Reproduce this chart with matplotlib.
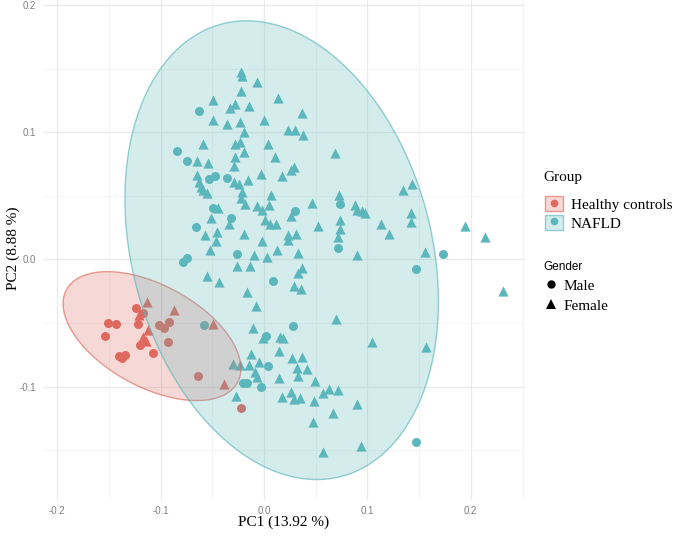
import numpy as np
import matplotlib
matplotlib.use("Agg")
import matplotlib.pyplot as plt
from matplotlib.patches import Patch, Polygon
from matplotlib.lines import Line2D
from matplotlib.legend_handler import HandlerTuple
from matplotlib.ticker import MultipleLocator
from matplotlib.font_manager import FontProperties
from matplotlib.colors import to_rgba

# ---------------- data ----------------
group_names = ["Healthy controls", "NAFLD"]
gender_names = ["Male", "Female"]
group_title = "Group"
gender_title = "Gender"
x_label = "PC1 (13.92 %)"
y_label = "PC2 (8.88 %)"
x_ticks = [-0.2, -0.1, 0.0, 0.1, 0.2]
y_ticks = [-0.1, 0.0, 0.1, 0.2]

# Healthy controls
hc_male_pc1 = [-0.1238, -0.1167, -0.1506, -0.1431, -0.1221, -0.1015, -0.0967, -0.0919,
               -0.1535, -0.0926, -0.1199, -0.1071, -0.1399, -0.1344, -0.1373, -0.0638, -0.0222]
hc_male_pc2 = [-0.0381, -0.0425, -0.0503, -0.0509, -0.0511, -0.0517, -0.0542, -0.0491,
               -0.0603, -0.0648, -0.0674, -0.0739, -0.0758, -0.0752, -0.0772, -0.0915, -0.1167]
hc_female_pc1 = [-0.1134, -0.1212, -0.0868, -0.1119, -0.0496, -0.1167, -0.1141, -0.0390]
hc_female_pc2 = [-0.0333, -0.0438, -0.0399, -0.0556, -0.0509, -0.0613, -0.0640, -0.0980]

# NAFLD
nafld_male_pc1 = [-0.0780, -0.0742, 0.0090, -0.0580, 0.0016, 0.0039, -0.0200, -0.0161, -0.0026,
                  -0.0264, 0.1734, 0.1467, 0.0283, 0.1467, 0.0735, 0.0718, 0.0300, -0.0626,
                  -0.0838, -0.0747, -0.0529, -0.0474, -0.0355, -0.0319, -0.0655, -0.0490]
nafld_male_pc2 = [-0.0019, 0.0008, -0.0168, -0.0516, -0.0603, -0.0836, -0.0975, -0.0975, -0.1006,
                  0.0039, 0.0039, -0.0076, -0.0524, -0.1438, 0.0435, 0.0094, 0.0382, 0.1166,
                  0.0854, 0.0775, 0.0629, 0.0655, 0.0637, 0.0330, 0.0256, 0.0401]
nafld_female_pc1 = [
    -0.0222, -0.0213, -0.0068, -0.0227, -0.0496, 0.0138, -0.0329, -0.0280, -0.0145, 0.0367,
    -0.0496, -0.0361, -0.0232, 0.0002, 0.0235, 0.0300, 0.0374, -0.0193, -0.0587, -0.0280,
    -0.0232, 0.0039, -0.0193, 0.0687, 0.0111, -0.0645, -0.0546, -0.0280, -0.0287, 0.0258,
    0.0292, -0.0029, 0.0176, -0.0651, -0.0290, -0.0239, -0.0155, -0.0629, -0.0609, -0.0587,
    -0.0548, -0.0216, -0.0225, 0.0065, 0.0728, 0.1341, 0.1434, -0.0184, -0.0068, -0.0015,
    0.0048, 0.0467, 0.0880, 0.0902, 0.0951, 0.0977, 0.0263, 0.0735, 0.1419, 0.1419,
    -0.0508, -0.0442, -0.0338, 0.0005, 0.0058, 0.0116, 0.0522, 0.1134, 0.1211, 0.1944,
    0.2137, -0.0571, -0.0452, -0.0191, 0.0237, 0.0308, 0.0735, 0.0718, -0.0467, -0.0022,
    0.0232, -0.0522, 0.0129, 0.0332, 0.0896, 0.1557, -0.0097, 0.0026, 0.0365, 0.0332,
    -0.0264, -0.0135, -0.0551, -0.0435, 0.0290, 0.0361, -0.0169, -0.0077, 0.0693, -0.0103,
    -0.0010, 0.0155, 0.0181, 0.1047, 0.1562, 0.0142, -0.0129, 0.0274, 0.0370, -0.0297,
    -0.0232, -0.0145, -0.0045, 0.0322, 0.0419, -0.0087, -0.0065, 0.0326, 0.0148, 0.0496,
    0.0258, 0.0571, 0.0632, 0.0718, -0.0273, 0.0176, 0.0287, 0.0351, 0.0484, 0.0902,
    0.0664, 0.0471, 0.0935, 0.0573, 0.2314]
nafld_female_pc2 = [
    0.1472, 0.1441, 0.1396, 0.1327, 0.1258, 0.1273, 0.1189, 0.1221, 0.1209, 0.1152,
    0.1100, 0.1069, 0.1082, 0.1100, 0.1016, 0.1016, 0.0977, 0.1003, 0.0906, 0.0912,
    0.0924, 0.0906, 0.0846, 0.0841, 0.0802, 0.0778, 0.0757, 0.0806, 0.0733, 0.0704,
    0.0728, 0.0676, 0.0659, 0.0667, 0.0610, 0.0597, 0.0623, 0.0610, 0.0568, 0.0545,
    0.0523, 0.0531, 0.0487, 0.0505, 0.0505, 0.0550, 0.0590, 0.0440, 0.0417, 0.0387,
    0.0429, 0.0443, 0.0432, 0.0387, 0.0382, 0.0362, 0.0338, 0.0314, 0.0369, 0.0297,
    0.0330, 0.0401, 0.0277, 0.0307, 0.0280, 0.0280, 0.0266, 0.0277, 0.0199, 0.0262,
    0.0178, 0.0195, 0.0217, 0.0199, 0.0195, 0.0199, 0.0236, 0.0173, 0.0148, 0.0144,
    0.0152, 0.0077, 0.0077, 0.0052, 0.0034, 0.0061, 0.0034, 0.0020, -0.0071, -0.0105,
    -0.0049, -0.0049, -0.0129, -0.0175, -0.0210, -0.0236, -0.0255, -0.0367, -0.0472, -0.0542,
    -0.0621, -0.0613, -0.0621, -0.0652, -0.0689, -0.0718, -0.0747, -0.0773, -0.0770, -0.0825,
    -0.0831, -0.0831, -0.0810, -0.0852, -0.0865, -0.0884, -0.0925, -0.0915, -0.0935, -0.0959,
    -0.1041, -0.1047, -0.1022, -0.1028, -0.1075, -0.1085, -0.1096, -0.1086, -0.1110, -0.1138,
    -0.1208, -0.1279, -0.1470, -0.1515, -0.0249]

# 95% confidence ellipses (center and shape matrix in data units)
hc_ellipse_center = [-0.1083, -0.0603]
hc_ellipse_shape = [[0.007392, -0.002192], [-0.002192, 0.002571]]
nafld_ellipse_center = [0.0171, 0.0073]
nafld_ellipse_shape = [[0.02297, -0.006108], [-0.006108, 0.03255]]

# ---------------- styling ----------------
c_hc = "#DF695F"
c_nafld = "#5BB7BB"
serif = "Liberation Serif"
sans = "Liberation Sans"

W, H = 676, 537
fig = plt.figure(figsize=(W / 100, H / 100), dpi=100)
ax = fig.add_axes([43 / W, 1 - 499.6 / H, 482 / W, 503.3 / H])
ax.set_xlim(-0.2137, 0.2524)
ax.set_ylim(-0.1889, 0.2070)

ax.xaxis.set_minor_locator(MultipleLocator(0.05))
ax.yaxis.set_minor_locator(MultipleLocator(0.05))
ax.set_xticks(x_ticks)
ax.set_yticks(y_ticks)
ax.set_xticklabels([f"{v:.1f}" for v in x_ticks])
ax.set_yticklabels([f"{v:.1f}" for v in y_ticks])
ax.set_xlim(-0.2137, 0.2524)
ax.set_ylim(-0.1889, 0.2070)
ax.grid(which="major", color="#EAEAEA", lw=0.9)
ax.grid(which="minor", color="#F3F3F3", lw=0.6)
ax.set_axisbelow(True)
for s in ax.spines.values():
    s.set_visible(False)
ax.tick_params(which="both", length=0)
ax.tick_params(axis="x", labelsize=7, labelcolor="#808080", pad=4.5)
ax.tick_params(axis="y", labelsize=7, labelcolor="#808080", pad=5)
for lab in ax.get_xticklabels() + ax.get_yticklabels():
    lab.set_fontfamily(sans)

# points
ms_circle, ms_tri = 42, 54
ax.scatter(hc_male_pc1, hc_male_pc2, marker="o", s=ms_circle, color=c_hc, lw=0, zorder=2)
ax.scatter(hc_female_pc1, hc_female_pc2, marker="^", s=ms_tri, color=c_hc, lw=0, zorder=2)
ax.scatter(nafld_male_pc1, nafld_male_pc2, marker="o", s=ms_circle, color=c_nafld, lw=0, zorder=2)
ax.scatter(nafld_female_pc1, nafld_female_pc2, marker="^", s=ms_tri, color=c_nafld, lw=0, zorder=2)

# ellipses
t = np.linspace(0, 2 * np.pi, 300)
for center, shape, col, z in [(hc_ellipse_center, hc_ellipse_shape, c_hc, 3),
                              (nafld_ellipse_center, nafld_ellipse_shape, c_nafld, 4)]:
    L = np.linalg.cholesky(np.array(shape))
    pts = np.array(center)[:, None] + L @ np.vstack([np.cos(t), np.sin(t)])
    ax.add_patch(Polygon(pts.T, closed=True, facecolor=to_rgba(col, 0.25),
                         edgecolor=to_rgba(col, 0.65), lw=1.0, zorder=z))

# axis labels
ax.set_xlabel(x_label, fontfamily=serif, fontsize=11)
ax.xaxis.set_label_coords(0.5, -0.031)
ax.set_ylabel(y_label, fontfamily=serif, fontsize=11, va="center")
ax.yaxis.set_label_coords(-0.062, 0.5)

# legends
fp = FontProperties(family=serif, size=11)
fig.text(543 / W, 1 - 178 / H, group_title, fontfamily=serif, fontsize=11,
         ha="left", va="center")
grp_handles = [
    (Patch(facecolor=to_rgba(c, 0.25), edgecolor=to_rgba(c, 0.65), lw=1.0),
     Line2D([], [], ls="none", marker="o", ms=5.5, color=c, mew=0))
    for c in (c_hc, c_nafld)
]
fig.legend(grp_handles, group_names, loc="upper left",
           bbox_to_anchor=(545 / W, 1 - 196.5 / H), frameon=False, prop=fp,
           handlelength=1.2, handleheight=1.1, handletextpad=0.5,
           labelspacing=0.2, borderpad=0, borderaxespad=0,
           handler_map={tuple: HandlerTuple(ndivide=1)})

fig.text(543 / W, 1 - 267 / H, gender_title, fontfamily=sans, fontsize=8.5,
         ha="left", va="center")
gen_handles = [Line2D([], [], ls="none", marker="o", ms=6, color="black", mew=0),
               Line2D([], [], ls="none", marker="^", ms=7, color="black", mew=0)]
fig.legend(gen_handles, gender_names, loc="upper left",
           bbox_to_anchor=(544 / W, 1 - 279 / H), frameon=False, prop=fp,
           handlelength=0.9, handletextpad=0.35,
           labelspacing=0.4, borderpad=0, borderaxespad=0)

fig.savefig("out.png", dpi=100)
